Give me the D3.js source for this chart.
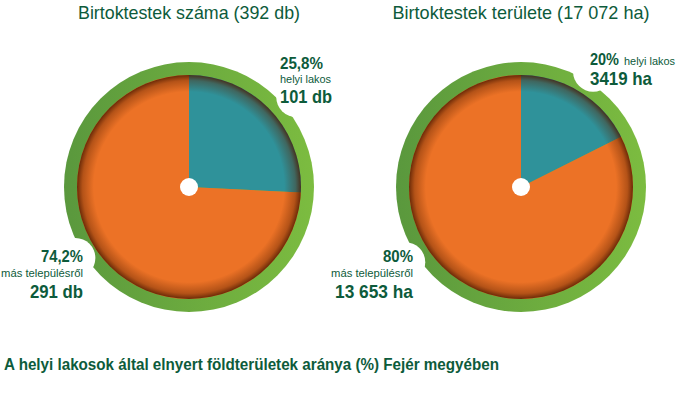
<!DOCTYPE html>
<html>
<head>
<meta charset="utf-8">
<script src="https://cdn.jsdelivr.net/npm/d3@7"></script>
<style>
  body { margin: 0; background: #fff; }
  svg { display: block; }
  text { font-family: "Liberation Sans", Arial, sans-serif; }
</style>
</head>
<body>
<svg id="chart" width="690" height="395"></svg>
<script>
// data
var categories = ['helyi lakos', 'más településről'];
var countValues = [101, 291];
var countPct = ['25,8%', '74,2%'];
var countLabels = ['101 db', '291 db'];
// the slice angle as drawn in the picture
var areaSlice = [17.6, 82.4];
var areaPct = ['20%', '80%'];
var areaLabels = ['3419 ha', '13 653 ha'];
var titles = ['Birtoktestek száma (392 db)', 'Birtoktestek területe (17 072 ha)'];
var caption = 'A helyi lakosok által elnyert földterületek aránya (%) Fejér megyében';

var darkGreen = '#0d5b3b';
var sliceColors = ['#2f929a', '#ec7226'];

var svg = d3.select('#chart');
var defs = svg.append('defs');

var ringGrad = defs.append('linearGradient').attr('id', 'ring-grad');
ringGrad.append('stop').attr('offset', '0%').attr('stop-color', '#5a983d');
ringGrad.append('stop').attr('offset', '100%').attr('stop-color', '#7cbc40');

var shade = defs.append('radialGradient').attr('id', 'shade');
shade.append('stop').attr('offset', '85%').attr('stop-color', '#5a2000').attr('stop-opacity', 0);
shade.append('stop').attr('offset', '95%').attr('stop-color', '#5a2000').attr('stop-opacity', 0.38);
shade.append('stop').attr('offset', '100%').attr('stop-color', '#4a1800').attr('stop-opacity', 0.8);

var outerR = 125, innerR = 112, holeR = 9;

function drawDonut(cx, cy, values, notches) {
  var g = svg.append('g').attr('transform', 'translate(' + cx + ',' + cy + ')');

  g.append('circle').attr('r', outerR).attr('fill', 'url(#ring-grad)');

  // white bites where labels sit
  notches.forEach(function(n) {
    var a = n.angle * Math.PI / 180;
    g.append('circle')
      .attr('cx', Math.sin(a) * n.dist)
      .attr('cy', -Math.cos(a) * n.dist)
      .attr('r', 20)
      .attr('fill', '#fff');
  });

  var pie = d3.pie().sort(null);
  var arc = d3.arc().innerRadius(0).outerRadius(innerR);
  g.selectAll('path.slice')
    .data(pie(values))
    .enter()
    .append('path')
    .attr('class', 'slice')
    .attr('d', arc)
    .attr('fill', function(d, i) { return sliceColors[i]; });

  g.append('circle').attr('r', innerR).attr('fill', 'url(#shade)');
  g.append('circle').attr('r', holeR).attr('fill', '#fff');
}

drawDonut(189, 187, countValues, [{angle: 50, dist: 140}, {angle: 238, dist: 134}]);
drawDonut(521, 187, areaSlice, [{angle: 32, dist: 136}, {angle: 237, dist: 138}]);

// condensed-looking text: squeeze to the width seen in the picture
function label(x, y, txt, size, weight, anchor, w) {
  return svg.append('text')
    .attr('x', x).attr('y', y)
    .attr('font-size', size)
    .attr('font-weight', weight)
    .attr('text-anchor', anchor)
    .attr('textLength', w)
    .attr('lengthAdjust', 'spacingAndGlyphs')
    .attr('fill', darkGreen)
    .text(txt);
}

// titles
label(189, 19, titles[0], 19, 'normal', 'middle', 222);
label(521, 19, titles[1], 19, 'normal', 'middle', 257);

// left donut labels
label(280, 69, countPct[0], 17, 'bold', 'start', 43);
label(280, 83, categories[0], 11, 'normal', 'start', 51);
label(280, 103, countLabels[0], 19, 'bold', 'start', 52);
label(83, 262, countPct[1], 17, 'bold', 'end', 42);
label(83, 277, categories[1], 11, 'normal', 'end', 82);
label(83, 298, countLabels[1], 19, 'bold', 'end', 53);

// right donut labels
label(590, 65, areaPct[0], 17, 'bold', 'start', 29);
label(624, 65, categories[0], 11, 'normal', 'start', 51);
label(590, 85, areaLabels[0], 19, 'bold', 'start', 62);
label(413, 262, areaPct[1], 17, 'bold', 'end', 30);
label(413, 277, categories[1], 11, 'normal', 'end', 82);
label(413, 298, areaLabels[1], 19, 'bold', 'end', 78);

// caption
label(4, 370, caption, 16, 'bold', 'start', 495);
</script>
</body>
</html>
